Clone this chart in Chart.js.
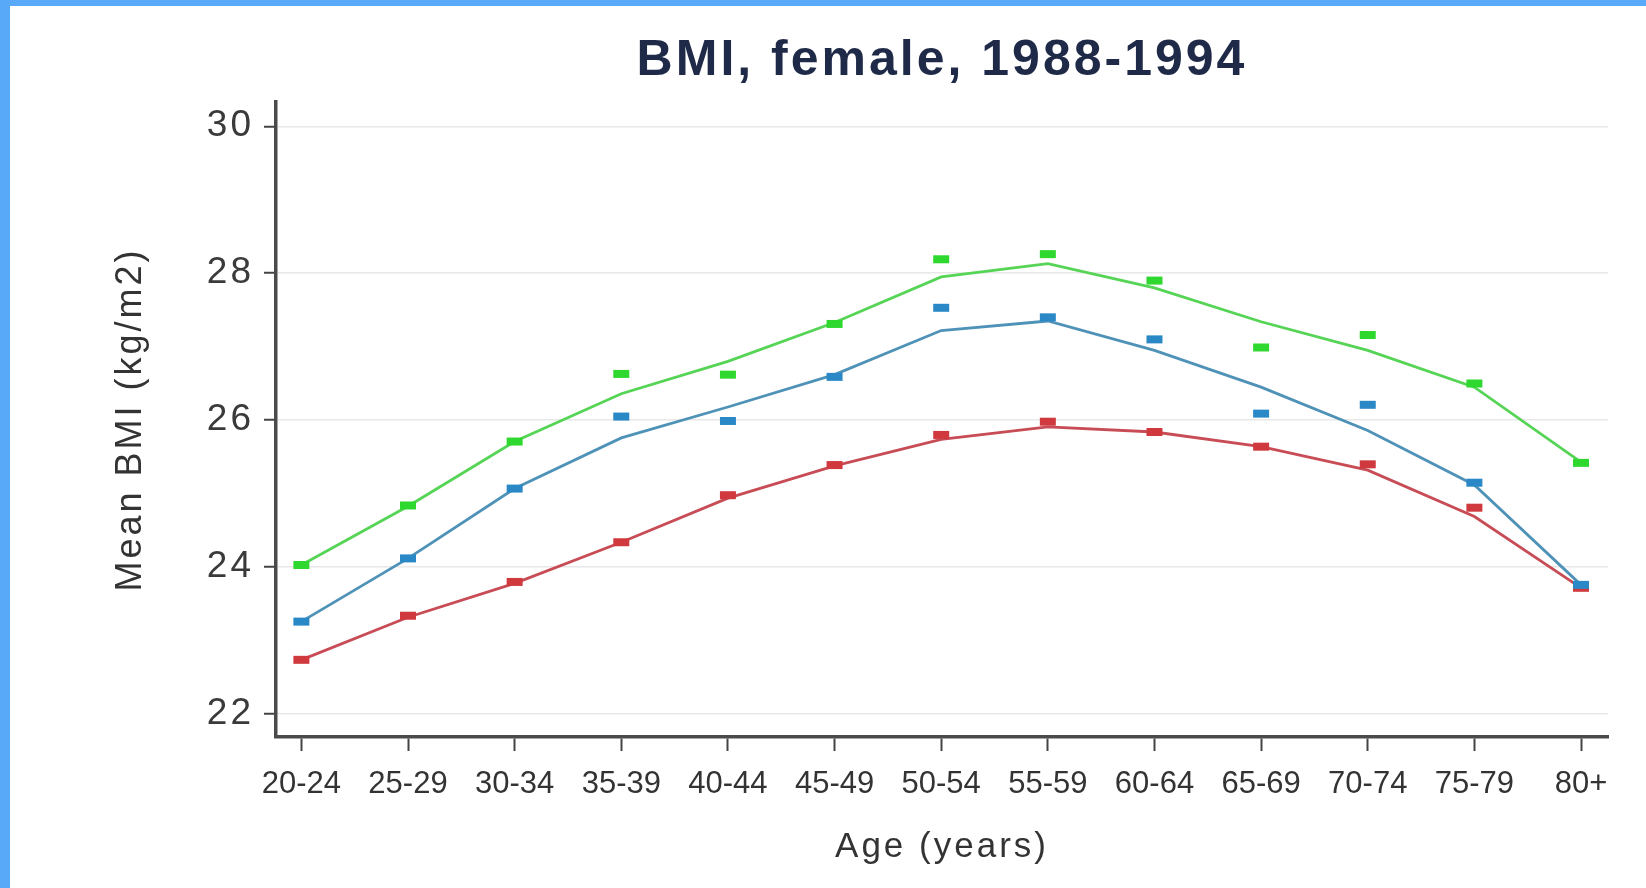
<!DOCTYPE html>
<html>
<head>
<meta charset="utf-8">
<script src="https://cdn.jsdelivr.net/npm/chart.js@4.4.1/dist/chart.umd.min.js"></script>
<style>
  html, body { margin: 0; padding: 0; background: #ffffff; overflow: hidden; }
  #wrap { position: relative; width: 1646px; height: 888px; }
  #stripLeft { position: absolute; left: 0; top: 0; width: 10px; height: 888px; background: #58aaf8; }
  #stripTop { position: absolute; left: 0; top: 0; width: 1646px; height: 6px; background: #58aaf8; }
</style>
</head>
<body>
<div id="wrap">
  <canvas id="c"></canvas>
  <div id="stripLeft"></div>
  <div id="stripTop"></div>
</div>
<script>
// ---- data ----
const ageGroups = ['20-24','25-29','30-34','35-39','40-44','45-49','50-54','55-59','60-64','65-69','70-74','75-79','80+'];
const yTickValues = [22, 24, 26, 28, 30];

const greenFitted   = [24.03, 24.83, 25.71, 26.36, 26.80, 27.33, 27.95, 28.13, 27.80, 27.34, 26.95, 26.45, 25.43];
const greenObserved = [24.03, 24.84, 25.71, 26.63, 26.62, 27.31, 28.19, 28.26, 27.90, 26.99, 27.16, 26.50, 25.42];

const blueFitted    = [23.26, 24.12, 25.07, 25.76, 26.18, 26.62, 27.22, 27.35, 26.95, 26.45, 25.86, 25.12, 23.76];
const blueObserved  = [23.26, 24.12, 25.07, 26.05, 25.99, 26.59, 27.53, 27.40, 27.10, 26.09, 26.21, 25.15, 23.76];

const redFitted     = [22.74, 23.32, 23.78, 24.34, 24.94, 25.38, 25.74, 25.91, 25.84, 25.64, 25.32, 24.69, 23.72];
const redObserved   = [22.74, 23.34, 23.80, 24.34, 24.98, 25.39, 25.80, 25.98, 25.84, 25.64, 25.40, 24.81, 23.72];

const toPoints = arr => arr.map((v, i) => ({ x: i, y: v }));

// letter spacing for the larger texts (title, axis titles, y tick labels)
const spacingPlugin = {
  id: 'spacing',
  beforeDraw(chart) {
    const ctx = chart.ctx;
    if (ctx.__patched) return;
    const orig = ctx.fillText;
    ctx.fillText = function (text, x, y, maxWidth) {
      const m = /(\d+(?:\.\d+)?)px/.exec(this.font);
      const size = m ? parseFloat(m[1]) : 12;
      if ('letterSpacing' in this) this.letterSpacing = size >= 34 ? '3px' : '0px';
      return (maxWidth === undefined || maxWidth === null)
        ? orig.call(this, text, x, y)
        : orig.call(this, text, x, y, maxWidth);
    };
    ctx.__patched = true;
  }
};

const markerDs = (label, data, color) => ({
  label, data: toPoints(data), showLine: false,
  pointStyle: 'line', pointRadius: 8, pointHoverRadius: 8,
  pointBorderWidth: 8, pointBorderColor: color, pointBackgroundColor: color,
  borderColor: color, order: 0
});
const lineDs = (label, data, color) => ({
  label, data: toPoints(data), showLine: true,
  borderColor: color, borderWidth: 2.8, pointRadius: 0, tension: 0, fill: false, order: 1
});

new Chart(document.getElementById('c'), {
  type: 'scatter',
  data: {
    datasets: [
      markerDs('Green observed', greenObserved, '#2fd82f'),
      markerDs('Blue observed', blueObserved, '#2a88c6'),
      markerDs('Red observed', redObserved, '#d03a3e'),
      lineDs('Green fitted', greenFitted, '#55d455'),
      lineDs('Blue fitted', blueFitted, '#4f92b8'),
      lineDs('Red fitted', redFitted, '#c84c56')
    ]
  },
  options: {
    responsive: true,
    maintainAspectRatio: false,
    animation: false,
    layout: { padding: { left: 0, right: 38, top: 0, bottom: 0 } },
    plugins: {
      legend: { display: false },
      tooltip: { enabled: false },
      title: {
        display: true,
        text: 'BMI, female, 1988-1994',
        fullSize: false,
        color: '#1f2a48',
        font: { family: 'Liberation Sans, Arial, sans-serif', size: 50, weight: 'bold', lineHeight: 1.2 },
        padding: { top: 31, bottom: 11 }
      }
    },
    scales: {
      x: {
        type: 'linear',
        min: -0.238,
        max: 12.253,
        afterFit(scale) { scale.height = 151; },
        afterBuildTicks(scale) { scale.ticks = ageGroups.map((_, i) => ({ value: i })); },
        ticks: {
          autoSkip: false,
          maxRotation: 0,
          includeBounds: false,
          padding: 15,
          color: '#333333',
          font: { family: 'Liberation Sans, Arial, sans-serif', size: 31, lineHeight: 1.2 },
          callback: v => ageGroups[v]
        },
        grid: { drawOnChartArea: false, drawTicks: true, tickLength: 14, tickColor: '#444444', tickWidth: 2 },
        border: { display: true, color: '#4a4a4a', width: 3.5 },
        title: {
          display: true,
          text: 'Age (years)',
          color: '#333333',
          font: { family: 'Liberation Sans, Arial, sans-serif', size: 35, lineHeight: 1.2 },
          padding: { top: 0, bottom: 20 }
        }
      },
      y: {
        type: 'linear',
        min: 21.69,
        max: 30.33,
        afterFit(scale) { scale.width = 276; },
        afterBuildTicks(scale) { scale.ticks = yTickValues.map(v => ({ value: v })); },
        ticks: {
          includeBounds: false,
          padding: 10,
          color: '#3a3a3a',
          font: { family: 'Liberation Sans, Arial, sans-serif', size: 37, lineHeight: 1.2 },
          callback: v => String(v)
        },
        grid: { color: '#e8e8e8', lineWidth: 1.5, drawTicks: true, tickLength: 12, tickColor: '#444444', tickWidth: 2 },
        border: { display: true, color: '#4a4a4a', width: 3.5 },
        title: {
          display: true,
          text: 'Mean BMI (kg/m2)',
          color: '#333333',
          font: { family: 'Liberation Sans, Arial, sans-serif', size: 36, lineHeight: 1.2 },
          padding: { top: 109, bottom: 0 }
        }
      }
    }
  },
  plugins: [spacingPlugin]
});
</script>
</body>
</html>
